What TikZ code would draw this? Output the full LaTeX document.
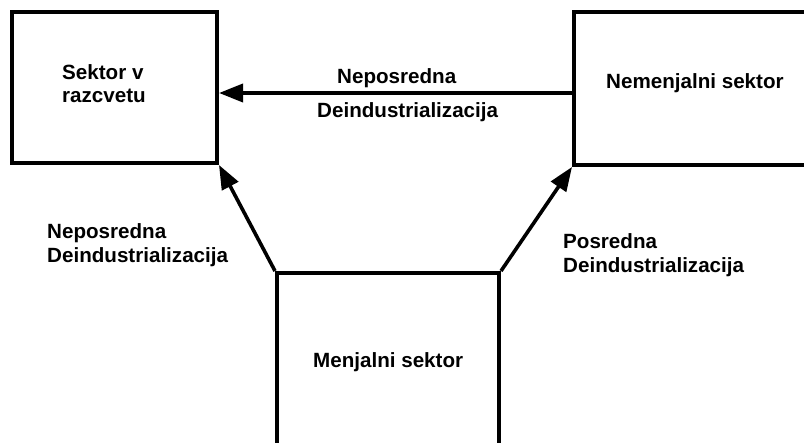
\documentclass[tikz,border=0pt]{standalone}
\usepackage{fontspec}
\setmainfont{Liberation Sans}
\usetikzlibrary{arrows.meta}
\begin{document}
\begin{tikzpicture}[x=1pt,y=-1pt,
  box/.style={draw=black,line width=4pt,rectangle,inner sep=0pt},
  lbl/.style={inner sep=0pt,anchor=base west,align=left,font=\fontsize{20.6}{24}\selectfont\bfseries},
  arr/.style={line width=3.6pt,-{Triangle[length=24pt,width=18pt]}}]
\useasboundingbox (0,0) rectangle (804,443);
\begin{scope}
\clip (0,0) rectangle (804,443);
\node[box,minimum width=205pt,minimum height=151pt] (sr) at (114.5,87.5) {};
\node[box,minimum width=326pt,minimum height=153pt] (ns) at (737,88.5) {};
\node[box,minimum width=222pt,minimum height=227pt] (ms) at (388,386.5) {};
\end{scope}
\node[lbl,font=\fontsize{20.6}{23}\selectfont\bfseries] (tsr) at (62,103) {Sektor v\\razcvetu};
\node[lbl] (tns) at (606,89) {Nemenjalni sektor};
\node[lbl] (tms) at (313,368) {Menjalni sektor};
\node[lbl] (ta1) at (337,84) {Neposredna};
\node[lbl] (ta2) at (317,118) {Deindustrializacija};
\node[lbl] (tl) at (47,263) {Neposredna\\Deindustrializacija};
\node[lbl] (tr) at (563,273) {Posredna\\Deindustrializacija};
\draw[arr] ([yshift=-4.5pt]ns.west) -- ([yshift=-5.5pt]sr.east);
\draw[arr] (ms.north west) -- (sr.south east);
\draw[arr] (ms.north east) -- (ns.south west);
\end{tikzpicture}
\end{document}
